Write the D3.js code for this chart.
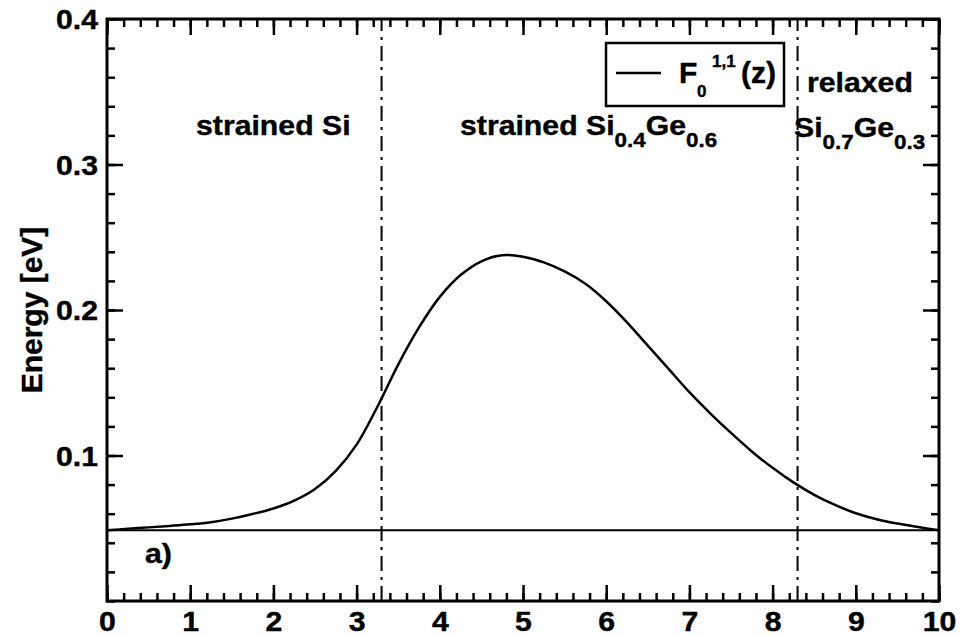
<!DOCTYPE html>
<html>
<head>
<meta charset="utf-8">
<script src="https://cdn.jsdelivr.net/npm/d3@7"></script>
<style>
  body { margin: 0; background: #fff; }
  svg text { font-family: "Liberation Sans", Arial, Helvetica, sans-serif; font-weight: bold; fill: #000;
             stroke: #000; stroke-width: 0.4px; }
</style>
</head>
<body>
<div id="chart"></div>
<script>
// Position z and F_0^{1,1}(z) energy in eV, every 0.25
const zValues = [0, 0.25, 0.5, 0.75, 1, 1.25, 1.5, 1.75, 2, 2.25, 2.5, 2.75, 3, 3.25,
                 3.5, 3.75, 4, 4.25, 4.5, 4.75, 5, 5.25, 5.5, 5.75, 6, 6.25, 6.5, 6.75,
                 7, 7.25, 7.5, 7.75, 8, 8.25, 8.5, 8.75, 9, 9.25, 9.5, 9.75, 10];
const energyValues = [0.0486, 0.0496, 0.0506, 0.0516, 0.0527, 0.0542, 0.0566, 0.0598, 0.0636,
                      0.0690, 0.0770, 0.0895, 0.1075, 0.1335, 0.1625, 0.1880, 0.2090, 0.2240,
                      0.2335, 0.2377, 0.2366, 0.2327, 0.2265, 0.2180, 0.2060, 0.1915, 0.1755,
                      0.1595, 0.1435, 0.1290, 0.1155, 0.1028, 0.0915, 0.0815, 0.0730, 0.0660,
                      0.0603, 0.0562, 0.0532, 0.0508, 0.0486];
const groundLevel = 0.0486;          // flat reference line
const boundaries = [3.3, 8.3];       // layer interfaces
const xMajorTicks = [0, 1, 2, 3, 4, 5, 6, 7, 8, 9, 10];
const yMajorTicks = [0.1, 0.2, 0.3, 0.4];
const xMinorTicks = d3.range(0, 10.001, 0.2);
const yMinorTicks = d3.range(0, 0.4001, 0.02);

const width = 975;
const height = 634;
const margin = { top: 19, right: 36, bottom: 33, left: 107 };
const stretch = 1.12;  // glyphs in the source are a bit wider than Arial

const svg = d3.select("#chart").append("svg")
    .attr("width", width)
    .attr("height", height);

const x = d3.scaleLinear().domain([0, 10]).range([margin.left, width - margin.right]);
const y = d3.scaleLinear().domain([0, 0.4]).range([height - margin.bottom, margin.top]);

// ticks on all four sides, pointing inward
function drawTicks(axisFn, scale, values, size, transform, labels) {
    const g = svg.append("g")
        .attr("transform", transform)
        .call(axisFn(scale).tickValues(values).tickSize(size).tickSizeOuter(0)
              .tickFormat(labels ? d3.format(labels) : ""));
    g.select(".domain").remove();
    g.selectAll(".tick line").attr("stroke", "#000").attr("stroke-width", 2.5);
    return g;
}
const bottomY = height - margin.bottom;
const rightX = width - margin.right;
drawTicks(d3.axisBottom, x, xMinorTicks, -8, `translate(0,${bottomY})`);
drawTicks(d3.axisTop, x, xMinorTicks, -8, `translate(0,${margin.top})`);
drawTicks(d3.axisLeft, y, yMinorTicks, -8, `translate(${margin.left},0)`);
drawTicks(d3.axisRight, y, yMinorTicks, -8, `translate(${rightX},0)`);
drawTicks(d3.axisTop, x, xMajorTicks, -16, `translate(0,${margin.top})`);
drawTicks(d3.axisRight, y, yMajorTicks, -16, `translate(${rightX},0)`);

const xAxis = drawTicks(d3.axisBottom, x, xMajorTicks, -16, `translate(0,${bottomY})`, "d");
xAxis.selectAll(".tick text")
    .attr("y", 11).attr("dy", "0.71em")
    .attr("transform", `scale(${stretch},1)`)
    .style("font-size", "27px").style("font-family", null);

const yAxis = drawTicks(d3.axisLeft, y, yMajorTicks, -16, `translate(${margin.left},0)`, ".1f");
yAxis.selectAll(".tick text")
    .attr("x", -9 / stretch).attr("dy", "0.36em")
    .attr("transform", `scale(${stretch},1)`)
    .style("font-size", "27px").style("font-family", null);

// plot frame
svg.append("rect")
    .attr("x", margin.left).attr("y", margin.top)
    .attr("width", rightX - margin.left).attr("height", bottomY - margin.top)
    .attr("fill", "none").attr("stroke", "#000").attr("stroke-width", 3);

// layer boundaries
svg.selectAll(".boundary")
    .data(boundaries)
    .join("line")
    .attr("class", "boundary")
    .attr("x1", d => x(d)).attr("x2", d => x(d))
    .attr("y1", y(0)).attr("y2", y(0.4))
    .attr("stroke", "#000").attr("stroke-width", 2)
    .attr("stroke-dasharray", "15,6,3,6");

// reference level
svg.append("line")
    .attr("x1", x(0)).attr("x2", x(10))
    .attr("y1", y(groundLevel)).attr("y2", y(groundLevel))
    .attr("stroke", "#000").attr("stroke-width", 2);

const line = d3.line()
    .x((d, i) => x(zValues[i]))
    .y(d => y(d))
    .curve(d3.curveCatmullRom.alpha(0.5));

svg.append("path")
    .datum(energyValues)
    .attr("d", line)
    .attr("fill", "none")
    .attr("stroke", "#000")
    .attr("stroke-width", 2.5);

// y label
svg.append("text")
    .attr("transform", `translate(42,${(margin.top + bottomY) / 2}) rotate(-90)`)
    .attr("text-anchor", "middle")
    .style("font-size", "30px")
    .text("Energy [eV]");

// labels with subscripts
function label(px, py, parts) {
    const t = svg.append("text")
        .attr("transform", `translate(${px},${py}) scale(${stretch},1)`)
        .style("font-size", "27px");
    parts.forEach(p => {
        const s = t.append("tspan").text(p[0]);
        if (p[1]) s.style("font-size", "20px").attr("dy", 12);
        else if (p[2]) s.attr("dy", -12);
    });
    return t;
}
label(196, 135, [["strained Si"]]);
label(460, 135, [["strained Si"], ["0.4", true], ["Ge", false, true], ["0.6", true]]);
label(807, 92, [["relaxed"]]);
label(794, 137, [["Si"], ["0.7", true], ["Ge", false, true], ["0.3", true]]);
label(145, 563, [["a)"]]);

// legend
const legend = svg.append("g");
legend.append("rect")
    .attr("x", 606).attr("y", 43).attr("width", 178).attr("height", 63)
    .attr("fill", "#fff").attr("stroke", "#000").attr("stroke-width", 2.5);
legend.append("line")
    .attr("x1", 616).attr("x2", 661).attr("y1", 73).attr("y2", 73)
    .attr("stroke", "#000").attr("stroke-width", 2.5);
legend.append("text").attr("x", 679).attr("y", 83).style("font-size", "30px").text("F");
legend.append("text").attr("x", 697).attr("y", 97).style("font-size", "17px").text("0");
legend.append("text").attr("x", 712).attr("y", 67).style("font-size", "17px").text("1,1");
legend.append("text").attr("x", 741).attr("y", 83).style("font-size", "30px").text("(z)");
</script>
</body>
</html>
